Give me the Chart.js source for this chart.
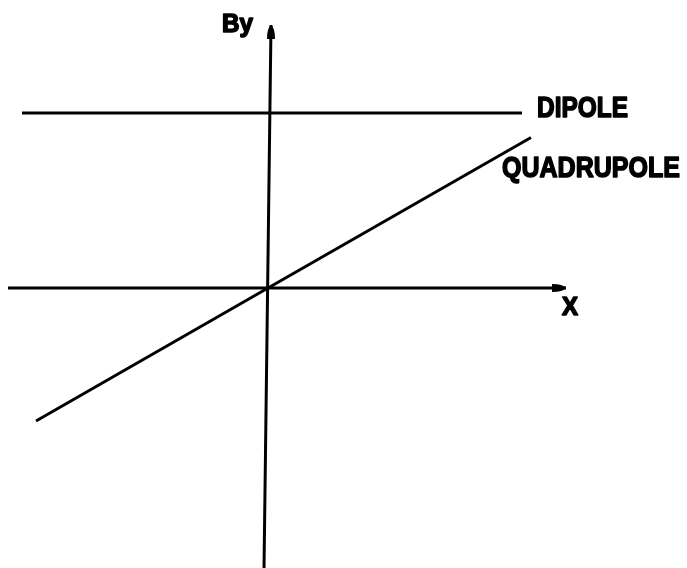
<!DOCTYPE html>
<html>
<head>
<meta charset="utf-8">
<script src="https://cdn.jsdelivr.net/npm/chart.js@4"></script>
<style>
  html, body { margin: 0; padding: 0; background: #fff; }
  #wrap { width: 687px; height: 568px; }
</style>
</head>
<body>
<div id="wrap"><canvas id="chart"></canvas></div>
<script>
// field values (1 unit ~ 50px)
const dipoleX = [-4.92, 5.08];
const dipoleY = [3.5, 3.5];
const quadX = [-4.64, 0, 5.26];
const quadY = [-2.66, 0, 3.01];
const xAxisX = [-5.2, 5.96];
const xAxisY = [0, 0];
const yAxisX = [-0.08, 0.06];
const yAxisY = [-5.6, 5.26];

const toPts = (xs, ys) => xs.map((x, i) => ({ x: x, y: ys[i] }));

// labels drawn at data positions, squeezed to look like the lettering
const labels = [
  { text: 'By', x: -0.92, y: 5.12, size: 26, width: 31 },
  { text: 'DIPOLE', x: 5.38, y: 3.42, size: 30, width: 91 },
  { text: 'QUADRUPOLE', x: 4.68, y: 2.22, size: 30, width: 178 },
  { text: 'X', x: 5.88, y: -0.54, size: 26, width: 16 }
];

const sketchPlugin = {
  id: 'sketch',
  afterDatasetsDraw(chart) {
    const ctx = chart.ctx;
    const xs = chart.scales.x, ys = chart.scales.y;
    ctx.save();
    ctx.fillStyle = '#000';
    ctx.strokeStyle = '#000';
    // arrow heads
    const arrow = (px, py, ang) => {
      ctx.save();
      ctx.translate(px, py);
      ctx.rotate(ang);
      ctx.beginPath();
      ctx.moveTo(0, 0);
      ctx.quadraticCurveTo(-3, 4, -14, 4);
      ctx.lineTo(-14, -4);
      ctx.quadraticCurveTo(-3, -4, 0, 0);
      ctx.fill();
      ctx.restore();
    };
    arrow(xs.getPixelForValue(xAxisX[1]), ys.getPixelForValue(xAxisY[1]), 0);
    arrow(xs.getPixelForValue(yAxisX[1]), ys.getPixelForValue(yAxisY[1]), -Math.PI / 2);
    // text, stroked a little to get the heavy pen look
    ctx.textBaseline = 'alphabetic';
    ctx.lineJoin = 'round';
    labels.forEach(l => {
      ctx.font = 'bold ' + l.size + 'px "Liberation Sans", Arial, sans-serif';
      const w = ctx.measureText(l.text).width;
      ctx.save();
      ctx.translate(xs.getPixelForValue(l.x), ys.getPixelForValue(l.y));
      ctx.scale(l.width / w, 1);
      ctx.lineWidth = 1.6;
      ctx.fillText(l.text, 0, 0);
      ctx.strokeText(l.text, 0, 0);
      ctx.restore();
    });
    ctx.restore();
  }
};

const lineSet = (data) => ({
  data: data,
  showLine: true,
  borderColor: '#000',
  borderWidth: 3,
  pointRadius: 0,
  fill: false,
  tension: 0
});

new Chart(document.getElementById('chart'), {
  type: 'scatter',
  data: {
    datasets: [
      lineSet(toPts(xAxisX, xAxisY)),
      lineSet(toPts(yAxisX, yAxisY)),
      lineSet(toPts(dipoleX, dipoleY)),
      lineSet(toPts(quadX, quadY))
    ]
  },
  options: {
    responsive: true,
    maintainAspectRatio: false,
    animation: false,
    layout: { padding: 0 },
    plugins: {
      legend: { display: false },
      tooltip: { enabled: false }
    },
    scales: {
      x: { type: 'linear', display: false, min: -5.36, max: 8.38 },
      y: { type: 'linear', display: false, min: -5.6, max: 5.76 }
    }
  },
  plugins: [sketchPlugin]
});
</script>
</body>
</html>
